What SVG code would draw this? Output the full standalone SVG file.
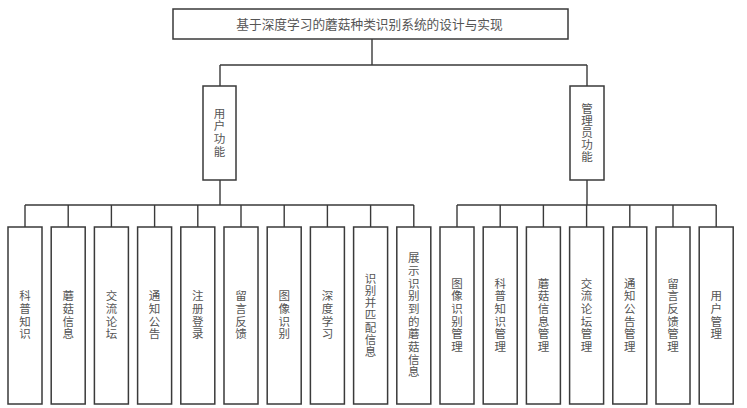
<svg xmlns="http://www.w3.org/2000/svg" width="747" height="408" viewBox="0 0 747 408">
<style>
.box{fill:#fff;stroke:#3a3a3a;stroke-width:1.5}
.ln{fill:none;stroke:#3a3a3a;stroke-width:1.4}
.t{font-family:"Noto Sans CJK SC","Liberation Serif",serif;font-size:12.7px;fill:#555;text-anchor:middle}
.v{font-family:"Noto Sans CJK SC","Liberation Serif",serif;font-size:11.5px;fill:#555;text-anchor:middle;writing-mode:vertical-rl;letter-spacing:1.2px}
</style>
<rect width="747" height="408" fill="#fff"/>
<g id="connectors" class="ln">
<path d="M372,39V65M220,65H587M220,65V86M587,65V86"/>
<path d="M220,180V205M25,205H413.8M25,205V227M68.2,205V227M111.4,205V227M154.6,205V227M197.8,205V227M241,205V227M284.2,205V227M327.4,205V227M370.6,205V227M413.8,205V227"/>
<path d="M587,180V205M457,205H716.2M457,205V227M500.2,205V227M543.4,205V227M586.6,205V227M629.8,205V227M673,205V227M716.2,205V227"/>
</g>
<g id="title"><rect class="box" x="173" y="9" width="395" height="30"/><text class="t" x="369.5" y="28.5">基于深度学习的蘑菇种类识别系统的设计与实现</text></g>
<g id="user"><rect class="box" x="203" y="86" width="33" height="94"/><text class="v" x="219.5" y="133">用户功能</text></g>
<g id="admin"><rect class="box" x="570" y="86" width="34" height="94"/><text class="v" x="587" y="133" style="letter-spacing:0.6px">管理员功能</text></g>
<g id="n1"><rect class="box" x="8" y="227" width="34" height="177"/><text class="v" x="25" y="315.5">科普知识</text></g>
<g id="n2"><rect class="box" x="51.2" y="227" width="34" height="177"/><text class="v" x="68.2" y="315.5">蘑菇信息</text></g>
<g id="n3"><rect class="box" x="94.4" y="227" width="34" height="177"/><text class="v" x="111.4" y="315.5">交流论坛</text></g>
<g id="n4"><rect class="box" x="137.6" y="227" width="34" height="177"/><text class="v" x="154.6" y="315.5">通知公告</text></g>
<g id="n5"><rect class="box" x="180.8" y="227" width="34" height="177"/><text class="v" x="197.8" y="315.5">注册登录</text></g>
<g id="n6"><rect class="box" x="224" y="227" width="34" height="177"/><text class="v" x="241" y="315.5">留言反馈</text></g>
<g id="n7"><rect class="box" x="267.2" y="227" width="34" height="177"/><text class="v" x="284.2" y="315.5">图像识别</text></g>
<g id="n8"><rect class="box" x="310.4" y="227" width="34" height="177"/><text class="v" x="327.4" y="315.5">深度学习</text></g>
<g id="n9"><rect class="box" x="353.6" y="227" width="34" height="177"/><text class="v" x="370.6" y="315.5" style="letter-spacing:0.8px">识别并匹配信息</text></g>
<g id="n10"><rect class="box" x="396.8" y="227" width="34" height="177"/><text class="v" x="413.8" y="315.5">展示识别到的蘑菇信息</text></g>
<g id="m1"><rect class="box" x="440" y="227" width="34" height="177"/><text class="v" x="457" y="315.5">图像识别管理</text></g>
<g id="m2"><rect class="box" x="483.2" y="227" width="34" height="177"/><text class="v" x="500.2" y="315.5">科普知识管理</text></g>
<g id="m3"><rect class="box" x="526.4" y="227" width="34" height="177"/><text class="v" x="543.4" y="315.5">蘑菇信息管理</text></g>
<g id="m4"><rect class="box" x="569.6" y="227" width="34" height="177"/><text class="v" x="586.6" y="315.5">交流论坛管理</text></g>
<g id="m5"><rect class="box" x="612.8" y="227" width="34" height="177"/><text class="v" x="629.8" y="315.5">通知公告管理</text></g>
<g id="m6"><rect class="box" x="656" y="227" width="34" height="177"/><text class="v" x="673" y="315.5">留言反馈管理</text></g>
<g id="m7"><rect class="box" x="699.2" y="227" width="34" height="177"/><text class="v" x="716.2" y="315.5">用户管理</text></g>
</svg>
